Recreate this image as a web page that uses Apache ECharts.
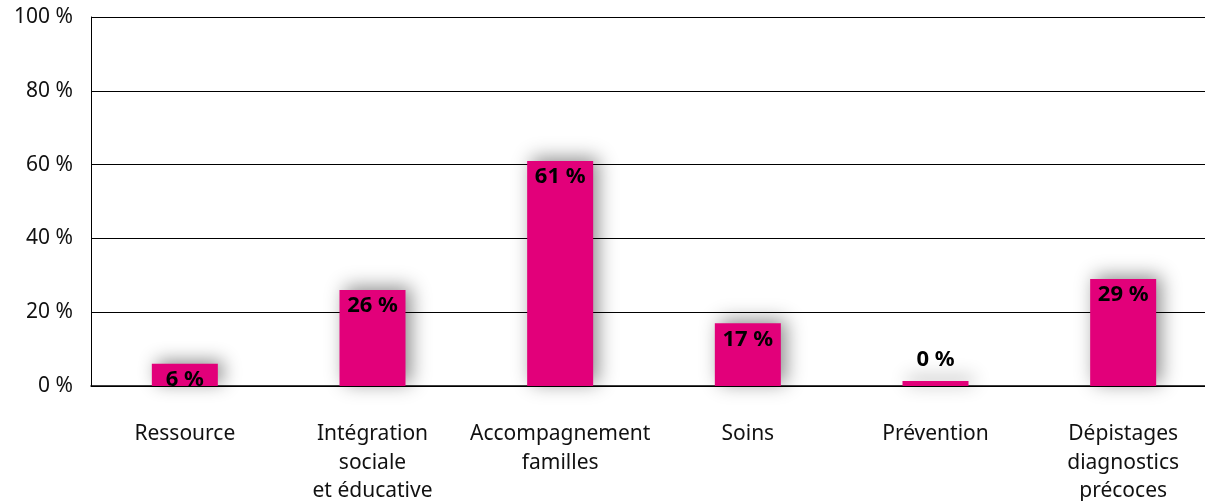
<!DOCTYPE html>
<html>
<head>
<meta charset="utf-8">
<script src="https://cdn.jsdelivr.net/npm/echarts@6/dist/echarts.min.js"></script>
<style>
  html, body { margin: 0; padding: 0; background: #fff; }
  #chart { width: 1205px; height: 501px; }
</style>
</head>
<body>
<div id="chart"></div>
<script>
// categories along the x axis
const categories = [
    'Ressource',
    'Intégration\nsociale\net éducative',
    'Accompagnement\nfamilles',
    'Soins',
    'Prévention',
    'Dépistages\ndiagnostics\nprécoces',
]
// share in percent
const values = [6, 26, 61, 17, 0, 29]
const yTicks = [0, 20, 40, 60, 80, 100]

const barColor = '#E2007A'
const font = '"Noto Sans", "DejaVu Sans", sans-serif'

const chart = echarts.init(document.getElementById('chart'))

// bars with a zero value get a tiny stub and the label sits above it
const seriesData = values.map((v) => {
    const item = { value: v }
    if (v === 0) {
        item.label = { position: 'top', distance: 10 }
    }
    return item
})

chart.setOption({
    animation: false,
    // plot runs a little past the right edge of the canvas
    grid: {
        left: 91, width: 1126, top: 17, bottom: 115,
        containLabel: false,
        outerBoundsMode: 'none',
    },
    xAxis: {
        type: 'category',
        data: categories,
        axisLine: { lineStyle: { color: '#000', width: 1.5 } },
        axisTick: { show: false },
        axisLabel: {
            interval: 0,
            margin: 34,
            color: '#111',
            fontFamily: font,
            fontSize: 21,
            lineHeight: 28.5,
        },
    },
    yAxis: {
        type: 'value',
        min: yTicks[0],
        max: yTicks[yTicks.length - 1],
        interval: 20,
        axisLine: { show: true, lineStyle: { color: '#000', width: 1 } },
        axisTick: { show: false },
        splitLine: { lineStyle: { color: '#000', width: 1.2 } },
        axisLabel: {
            margin: 18,
            color: '#111',
            fontFamily: font,
            fontSize: 21,
            formatter: (v) => v + ' %',
        },
    },
    series: [
        {
            type: 'bar',
            data: seriesData,
            barWidth: 66,
            barMinHeight: 5,
            itemStyle: {
                color: barColor,
                shadowBlur: 18,
                shadowColor: 'rgba(0,0,0,0.45)',
                shadowOffsetX: 5,
                shadowOffsetY: -3,
            },
            label: {
                show: true,
                position: 'insideTop',
                distance: 5,
                color: '#000',
                fontFamily: font,
                fontWeight: 'bold',
                fontSize: 22,
                formatter: (p) => p.value + ' %',
            },
        },
    ],
})
</script>
</body>
</html>
